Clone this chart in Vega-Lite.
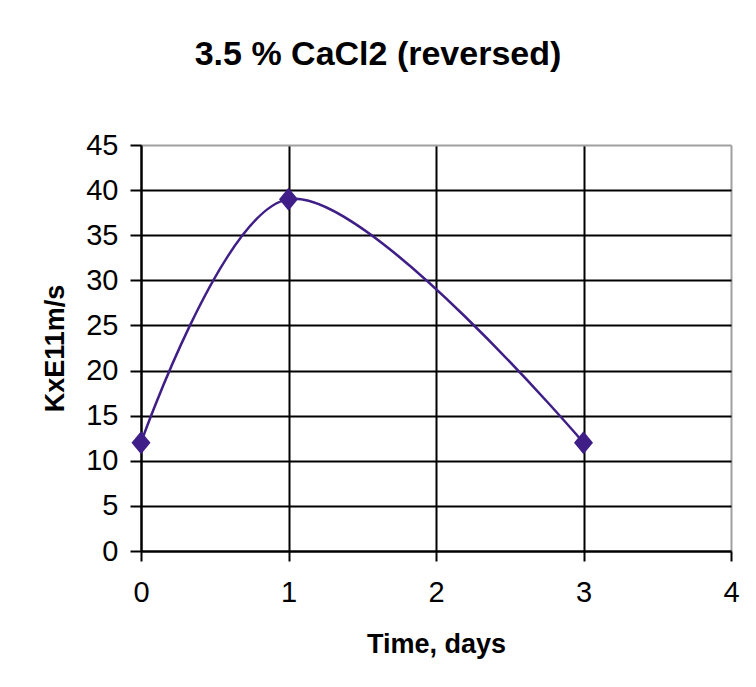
{
  "$schema": "https://vega.github.io/schema/vega-lite/v6.json",
  "width": 590,
  "height": 406,
  "autosize": {"type": "none"},
  "padding": {"left": 141, "top": 145, "right": 25, "bottom": 136},
  "background": "white",
  "title": {
    "text": "3.5 % CaCl2 (reversed)",
    "font": "Liberation Sans",
    "fontSize": 34,
    "fontWeight": "bold",
    "color": "black",
    "anchor": "middle",
    "offset": 59,
    "dx": -58
  },
  "config": {
    "view": {"stroke": null},
    "axis": {
      "labelFont": "Liberation Sans",
      "titleFont": "Liberation Sans",
      "labelFontSize": 29,
      "labelColor": "black",
      "titleFontSize": 27,
      "titleFontWeight": "bold",
      "titleColor": "black",
      "domainColor": "black",
      "domainWidth": 2,
      "tickColor": "black",
      "tickWidth": 2,
      "gridWidth": 2,
      "gridOpacity": 1,
      "labelFlush": false
    }
  },
  "data": {
    "values": [
      {"day": 0, "k": 12},
      {"day": 1, "k": 39},
      {"day": 3, "k": 12}
    ]
  },
  "encoding": {
    "x": {
      "field": "day",
      "type": "quantitative",
      "scale": {"domain": [0, 4], "nice": false},
      "axis": {
        "title": "Time, days",
        "values": [0, 1, 2, 3, 4],
        "tickSize": 10,
        "labelPadding": 17,
        "titlePadding": 24,
        "gridColor": {"condition": {"test": "datum.value == 4", "value": "#a0a0a0"}, "value": "black"}
      }
    },
    "y": {
      "field": "k",
      "type": "quantitative",
      "scale": {"domain": [0, 45], "nice": false},
      "axis": {
        "title": "KxE11m/s",
        "values": [0, 5, 10, 15, 20, 25, 30, 35, 40, 45],
        "tickSize": 11,
        "labelPadding": 12,
        "titlePadding": 16,
        "gridColor": {"condition": {"test": "datum.value == 45", "value": "#a0a0a0"}, "value": "black"}
      }
    }
  },
  "layer": [
    {
      "mark": {"type": "line", "interpolate": "catmull-rom", "color": "#3f1f87", "strokeWidth": 2.5}
    },
    {
      "mark": {
        "type": "point",
        "shape": "M0,-1.15L0.95,0L0,1.15L-0.95,0Z",
        "size": 400,
        "filled": true,
        "opacity": 1,
        "color": "#3f1f87"
      }
    }
  ]
}
